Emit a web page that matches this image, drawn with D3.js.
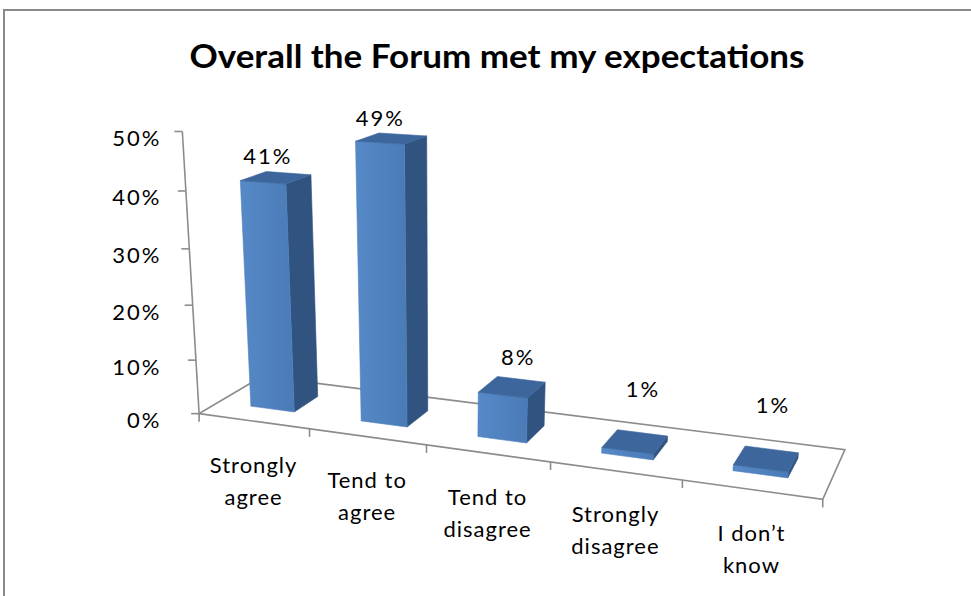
<!DOCTYPE html>
<html>
<head>
<meta charset="utf-8">
<script src="https://cdn.jsdelivr.net/npm/d3@7"></script>
<style>
  body { margin: 0; background: #fff; }
  svg { display: block; font-family: Lato, "Open Sans", sans-serif; }
</style>
</head>
<body>
<svg id="chart" width="971" height="596"></svg>
<script>
// ---- data ----
const title = "Overall the Forum met my expectations";
const categories = [["Strongly", "agree"], ["Tend to", "agree"], ["Tend to", "disagree"], ["Strongly", "disagree"], ["I don\u2019t", "know"]];
const values = [0.41, 0.49, 0.08, 0.01, 0.01];
const yTicks = [0, 0.1, 0.2, 0.3, 0.4, 0.5];

const svg = d3.select("#chart");

// chart frame
svg.append("path")
    .attr("d", "M4,596 L4,10 L971,10")
    .attr("fill", "none")
    .attr("stroke", "#8a8a8a")
    .attr("stroke-width", 2);

// world scales: x in category units, y in height units, z in depth units
const x = d3.scaleBand().domain(d3.range(categories.length)).range([0, 5]).paddingInner(0.6).paddingOuter(0.3);
const y = d3.scaleLinear().domain([0, 0.5]).range([0, 5]);
const z = d3.scaleBand().domain([0]).range([0, 1]).paddingInner(0.6).paddingOuter(0.3);

// perspective camera calibrated on the plot frame (floor corners, axis ticks)
const frameAnchors = [
    [[0, 0, 0], [199, 413]], [[5, 0, 0], [823, 498]], [[0, 0, 1], [262, 377]], [[5, 0, 1], [845, 449]],
    [[1, 0, 0], [310, 428]], [[2, 0, 0], [427, 445]], [[3, 0, 0], [550, 463]], [[4, 0, 0], [682, 482]],
    [[0, 1, 0], [196, 360]], [[0, 2, 0], [192.5, 305]], [[0, 3, 0], [189, 248.5]], [[0, 4, 0], [186, 192]], [[0, 5, 0], [182.5, 131]]
];

function fitCamera(pairs) {
    const n = 11;
    const M = d3.range(n).map(() => new Array(n + 1).fill(0));
    const addRow = (row, rhs) => {
        for (let i = 0; i < n; i++) {
            for (let j = 0; j < n; j++) M[i][j] += row[i] * row[j];
            M[i][n] += row[i] * rhs;
        }
    };
    pairs.forEach(([[X, Y, Z], [u, v]]) => {
        const un = (u - 500) / 300, vn = (v - 300) / 300;
        addRow([X, Y, Z, 1, 0, 0, 0, 0, -un * X, -un * Y, -un * Z], un);
        addRow([0, 0, 0, 0, X, Y, Z, 1, -vn * X, -vn * Y, -vn * Z], vn);
    });
    for (let c = 0; c < n; c++) {
        let p = c;
        for (let r = c + 1; r < n; r++) if (Math.abs(M[r][c]) > Math.abs(M[p][c])) p = r;
        [M[c], M[p]] = [M[p], M[c]];
        for (let r = 0; r < n; r++) {
            if (r === c) continue;
            const f = M[r][c] / M[c][c];
            for (let k = c; k <= n; k++) M[r][k] -= f * M[c][k];
        }
    }
    const p = M.map((row, i) => row[n] / row[i]);
    return ([X, Y, Z]) => {
        const w = p[8] * X + p[9] * Y + p[10] * Z + 1;
        return [(p[0] * X + p[1] * Y + p[2] * Z + p[3]) / w * 300 + 500,
                (p[4] * X + p[5] * Y + p[6] * Z + p[7]) / w * 300 + 300];
    };
}
const project = fitCamera(frameAnchors);
const line = d3.line();

const g = svg.append("g");
const axisColor = "#8c8c8c";

// floor outline
const nCat = categories.length;
g.append("path")
    .attr("d", line([[0, 0, 0], [nCat, 0, 0], [nCat, 0, 1], [0, 0, 1]].map(project)) + "Z")
    .attr("fill", "none")
    .attr("stroke", axisColor)
    .attr("stroke-width", 1.6);

// value axis
g.append("path")
    .attr("d", line([[0, 0, 0], [0, y(0.5), 0]].map(project)))
    .attr("stroke", axisColor)
    .attr("stroke-width", 1.6);

yTicks.forEach(t => {
    const [px, py] = project([0, y(t), 0]);
    g.append("line")
        .attr("x1", px - 8).attr("x2", px).attr("y1", py).attr("y2", py)
        .attr("stroke", axisColor).attr("stroke-width", 1.6);
});
const labelX = project([0, y(0.5), 0])[0] - 21;
g.selectAll(".ytick")
    .data(yTicks)
    .enter()
    .append("text")
    .attr("class", "ytick")
    .attr("x", labelX)
    .attr("y", t => project([0, y(t), 0])[1] + 6)
    .attr("text-anchor", "end")
    .attr("dominant-baseline", "central")
    .attr("font-size", 22)
    .attr("letter-spacing", 2)
    .attr("fill", "#000")
    .text(t => d3.format(".0%")(t));

// category ticks along the front edge
d3.range(nCat + 1).forEach(i => {
    const [px, py] = project([i, 0, 0]);
    g.append("line")
        .attr("x1", px).attr("x2", px).attr("y1", py).attr("y2", py + 8)
        .attr("stroke", axisColor).attr("stroke-width", 1.6);
});

// bars
const defs = svg.append("defs");
const grad = defs.append("linearGradient").attr("id", "frontGrad").attr("x1", 0).attr("x2", 1).attr("y1", 0).attr("y2", 0);
grad.append("stop").attr("offset", 0).attr("stop-color", "#5689c7");
grad.append("stop").attr("offset", 1).attr("stop-color", "#4a7bb7");

const faceFill = { front: "url(#frontGrad)", right: "#30537f", left: "#30537f", top: "#3c669c" };

let refSign = null;
values.forEach((v, i) => {
    const x0 = x(i), x1 = x(i) + x.bandwidth();
    const z0 = z(0), z1 = z(0) + z.bandwidth();
    const h = y(v);
    const faces = {
        front: [[x0, 0, z0], [x0, h, z0], [x1, h, z0], [x1, 0, z0]],
        right: [[x1, 0, z0], [x1, h, z0], [x1, h, z1], [x1, 0, z1]],
        left: [[x0, 0, z1], [x0, h, z1], [x0, h, z0], [x0, 0, z0]],
        top: [[x0, h, z0], [x0, h, z1], [x1, h, z1], [x1, h, z0]]
    };
    const bar = g.append("g").attr("class", "bar");
    if (refSign === null) refSign = Math.sign(d3.polygonArea(faces.front.map(project)));
    ["left", "right", "front", "top"].forEach(k => {
        const pts = faces[k].map(project);
        if (Math.sign(d3.polygonArea(pts)) !== refSign) return;
        bar.append("path")
            .attr("d", line(pts) + "Z")
            .attr("fill", faceFill[k])
            .attr("stroke", k === "front" ? "#4f81bd" : faceFill[k])
            .attr("stroke-width", 0.6)
            .attr("stroke-linejoin", "round");
    });
});

// data labels: anchored above the bar top, sliding to its back edge for short bars
const labelPos = (v, i) => {
    const zA = z(0) + z.bandwidth() * (1 - v / 0.5);
    const p = project([x(i) + x.bandwidth() / 2, y(Math.max(v, 0.045)), zA]);
    return [p[0], p[1] - 25];
};
g.selectAll(".dlabel")
    .data(values)
    .enter()
    .append("text")
    .attr("class", "dlabel")
    .attr("x", (v, i) => labelPos(v, i)[0])
    .attr("y", (v, i) => labelPos(v, i)[1])
    .attr("text-anchor", "middle")
    .attr("dominant-baseline", "central")
    .attr("font-size", 22)
    .attr("letter-spacing", 2)
    .text(v => d3.format(".0%")(v));

// category labels
categories.forEach((lines, i) => {
    const [px, py] = project([i + 0.5, 0, 0]);
    const t = g.append("text")
        .attr("text-anchor", "middle")
        .attr("font-size", 22)
        .attr("letter-spacing", 1);
    lines.forEach((s, j) => {
        t.append("tspan")
            .attr("x", px)
            .attr("y", py + 43 + j * 32)
            .attr("dominant-baseline", "central")
            .text(s);
    });
});

// title
svg.append("text")
    .attr("x", 497)
    .attr("y", 68)
    .attr("text-anchor", "middle")
    .attr("font-size", 32)
    .attr("font-weight", "bold")
    .attr("textLength", 615)
    .attr("lengthAdjust", "spacingAndGlyphs")
    .text(title);
</script>
</body>
</html>
